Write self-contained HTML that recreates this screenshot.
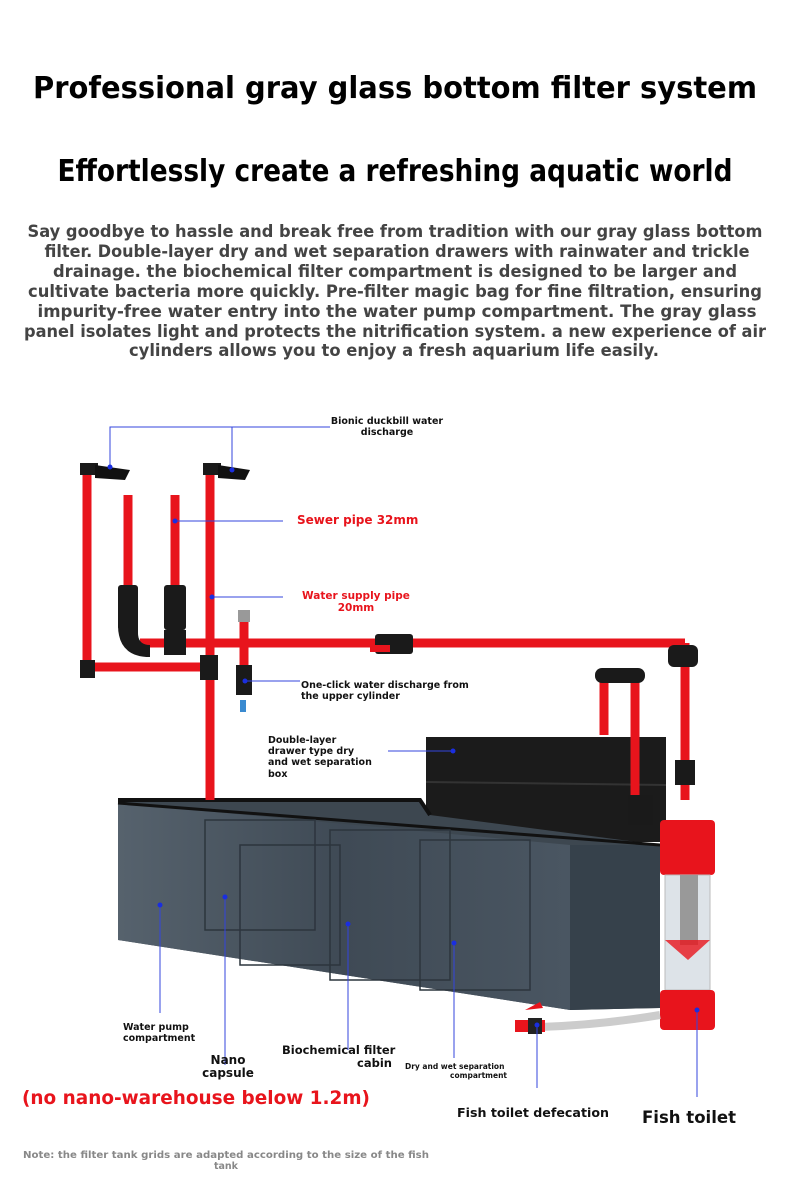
<!DOCTYPE html>
<html><head><meta charset="utf-8"><style>
body{margin:0;background:#fff;}
svg{display:block;font-family:"DejaVu Sans","Liberation Sans",sans-serif;}
</style></head><body>
<svg width="790" height="1190" viewBox="0 0 790 1190" xmlns="http://www.w3.org/2000/svg">
<defs>
<linearGradient id="tg" x1="0" y1="0" x2="1" y2="0"><stop offset="0" stop-color="#56626d"/><stop offset="0.5" stop-color="#3f4a55"/><stop offset="1" stop-color="#4a5662"/></linearGradient>
</defs>
<text x="395" y="98" text-anchor="middle" font-size="30" font-weight="bold" fill="#000" textLength="724" lengthAdjust="spacingAndGlyphs">Professional gray glass bottom filter system</text>
<text x="395" y="181" text-anchor="middle" font-size="30" font-weight="bold" fill="#000" textLength="675" lengthAdjust="spacingAndGlyphs">Effortlessly create a refreshing aquatic world</text>
<g font-size="16.5" font-weight="bold" fill="#444" text-anchor="middle">
<text x="395" y="237" textLength="735" lengthAdjust="spacingAndGlyphs">Say goodbye to hassle and break free from tradition with our gray glass bottom</text>
<text x="397" y="257" textLength="705" lengthAdjust="spacingAndGlyphs">filter. Double-layer dry and wet separation drawers with rainwater and trickle</text>
<text x="395" y="277" textLength="684" lengthAdjust="spacingAndGlyphs">drainage. the biochemical filter compartment is designed to be larger and</text>
<text x="395" y="297" textLength="734" lengthAdjust="spacingAndGlyphs">cultivate bacteria more quickly. Pre-filter magic bag for fine filtration, ensuring</text>
<text x="397" y="317" textLength="719" lengthAdjust="spacingAndGlyphs">impurity-free water entry into the water pump compartment. The gray glass</text>
<text x="395" y="337" textLength="742" lengthAdjust="spacingAndGlyphs">panel isolates light and protects the nitrification system. a new experience of air</text>
<text x="394" y="356" textLength="530" lengthAdjust="spacingAndGlyphs">cylinders allows you to enjoy a fresh aquarium life easily.</text>
</g>
<!-- drawer box -->
<rect x="426" y="737" width="240" height="105" fill="#1b1b1b"/>
<line x1="426" y1="782" x2="666" y2="785" stroke="#333" stroke-width="2"/>
<!-- tank -->
<polygon points="118,800 420,800 430,815 660,845 660,1008 570,1010 118,940" fill="#3d4750"/>
<polygon points="118,803 570,845 570,1010 118,940" fill="url(#tg)"/>
<polygon points="570,845 660,845 660,1008 570,1010" fill="#36414b"/>
<polyline points="118,800 420,800 430,815" fill="none" stroke="#111" stroke-width="4"/>
<line x1="118" y1="803" x2="660" y2="845" stroke="#111" stroke-width="3"/>
<g fill="none" stroke="#2c353d" stroke-width="1.5">
<rect x="205" y="820" width="110" height="110"/><rect x="240" y="845" width="100" height="120"/>
<rect x="330" y="830" width="120" height="150"/><rect x="420" y="840" width="110" height="150"/>
</g>
<!-- pipes -->
<g stroke="#e8141c" stroke-width="9" fill="none">
<line x1="140" y1="643" x2="685" y2="643"/>
<line x1="685" y1="643" x2="685" y2="800"/>
<line x1="87" y1="470" x2="87" y2="667"/>
<line x1="87" y1="667" x2="210" y2="667"/>
<line x1="210" y1="470" x2="210" y2="800"/>
<line x1="128" y1="495" x2="128" y2="590"/>
<line x1="175" y1="495" x2="175" y2="590"/>
<line x1="604" y1="680" x2="604" y2="735"/>
<line x1="635" y1="680" x2="635" y2="800"/>
<line x1="244" y1="620" x2="244" y2="690"/>
</g>
<g fill="#1a1a1a">
<rect x="118" y="585" width="20" height="45" rx="3"/><rect x="164" y="585" width="22" height="45" rx="3"/>
<path d="M118 625 h20 v8 q0 12 12 12 v12 q-32 0 -32 -32z"/>
<rect x="164" y="630" width="22" height="25"/>
<rect x="200" y="655" width="18" height="25"/>
<rect x="80" y="660" width="15" height="18"/>
<rect x="375" y="634" width="38" height="20" rx="3"/>
<rect x="668" y="645" width="30" height="22" rx="6"/>
<rect x="675" y="760" width="20" height="25"/>
<rect x="595" y="668" width="50" height="15" rx="7"/>
<rect x="628" y="795" width="25" height="30"/>
<rect x="80" y="463" width="18" height="12"/><rect x="203" y="463" width="18" height="12"/>
<rect x="236" y="665" width="16" height="30"/>
</g>
<polygon points="95,465 130,470 125,480 95,478" fill="#111"/>
<polygon points="218,465 250,470 245,480 218,478" fill="#111"/>
<rect x="370" y="645" width="20" height="7" fill="#e8141c"/>
<rect x="240" y="700" width="6" height="12" fill="#3a8ad0"/>
<rect x="238" y="610" width="12" height="12" fill="#999"/>
<!-- filter cylinder -->
<rect x="660" y="820" width="55" height="55" rx="4" fill="#e8141c"/>
<rect x="665" y="875" width="45" height="115" fill="#dde3e8" stroke="#bbb"/>
<rect x="680" y="875" width="18" height="70" fill="#999"/>
<polygon points="665,940 710,940 688,960" fill="#e8141c" opacity="0.8"/>
<rect x="660" y="990" width="55" height="40" rx="4" fill="#e8141c"/>
<path d="M660 1015 Q600 1025 540 1027" stroke="#ccc" stroke-width="8" fill="none"/>
<rect x="515" y="1020" width="30" height="12" fill="#e8141c"/>
<rect x="528" y="1018" width="14" height="16" fill="#222"/>
<path d="M525 1010 l15 -8 l3 6 z" fill="#e8141c"/>
<!-- leader lines -->
<g stroke="#3344dd" stroke-width="1" fill="none">
<polyline points="110,467 110,427 330,427"/><line x1="232" y1="427" x2="232" y2="470"/>
<line x1="175" y1="521" x2="283" y2="521"/>
<line x1="212" y1="597" x2="283" y2="597"/>
<line x1="245" y1="681" x2="300" y2="681"/>
<line x1="388" y1="751" x2="453" y2="751"/>
<line x1="160" y1="905" x2="160" y2="1013"/>
<line x1="225" y1="897" x2="225" y2="1065"/>
<line x1="348" y1="924" x2="348" y2="1050"/>
<line x1="454" y1="943" x2="454" y2="1058"/>
<line x1="537" y1="1025" x2="537" y2="1088"/>
<line x1="697" y1="1010" x2="697" y2="1097"/>
</g>
<g fill="#1a2ee0"><circle cx="110" cy="467" r="2.5"/><circle cx="232" cy="470" r="2.5"/><circle cx="175" cy="521" r="2.5"/><circle cx="212" cy="597" r="2.5"/><circle cx="245" cy="681" r="2.5"/><circle cx="453" cy="751" r="2.5"/><circle cx="160" cy="905" r="2.5"/><circle cx="225" cy="897" r="2.5"/><circle cx="348" cy="924" r="2.5"/><circle cx="454" cy="943" r="2.5"/><circle cx="537" cy="1025" r="2.5"/><circle cx="697" cy="1010" r="2.5"/></g>
<!-- labels -->
<g font-weight="bold" fill="#111">
<text x="387" y="424" font-size="9.5" text-anchor="middle">Bionic duckbill water</text>
<text x="387" y="435" font-size="9.5" text-anchor="middle">discharge</text>
<text x="297" y="524" font-size="12" fill="#e8141c">Sewer pipe 32mm</text>
<text x="356" y="599" font-size="10.5" fill="#e8141c" text-anchor="middle">Water supply pipe</text>
<text x="356" y="611" font-size="10.5" fill="#e8141c" text-anchor="middle">20mm</text>
<text x="301" y="688" font-size="9.5">One-click water discharge from</text>
<text x="301" y="699" font-size="9.5">the upper cylinder</text>
<text x="268" y="743" font-size="9.5">Double-layer</text>
<text x="268" y="754" font-size="9.5">drawer type dry</text>
<text x="268" y="765" font-size="9.5">and wet separation</text>
<text x="268" y="777" font-size="9.5">box</text>
<text x="123" y="1030" font-size="9.5">Water pump</text>
<text x="123" y="1041" font-size="9.5">compartment</text>
<text x="228" y="1064" font-size="12" text-anchor="middle">Nano</text>
<text x="228" y="1077" font-size="12" text-anchor="middle">capsule</text>
<text x="282" y="1054" font-size="11.5">Biochemical filter</text>
<text x="392" y="1067" font-size="11.5" text-anchor="end">cabin</text>
<text x="405" y="1069" font-size="7.5">Dry and wet separation</text>
<text x="507" y="1078" font-size="7.5" text-anchor="end">compartment</text>
<text x="22" y="1104" font-size="19" fill="#e8141c" textLength="348" lengthAdjust="spacingAndGlyphs">(no nano-warehouse below 1.2m)</text>
<text x="457" y="1117" font-size="12.5" textLength="152" lengthAdjust="spacingAndGlyphs">Fish toilet defecation</text>
<text x="642" y="1123" font-size="17" textLength="94" lengthAdjust="spacingAndGlyphs">Fish toilet</text>
<text x="23" y="1158" font-size="9.5" fill="#888" textLength="406" lengthAdjust="spacingAndGlyphs">Note: the filter tank grids are adapted according to the size of the fish</text>
<text x="226" y="1169" font-size="9.5" fill="#888" text-anchor="middle">tank</text>
</g>
</svg>
</body></html>
